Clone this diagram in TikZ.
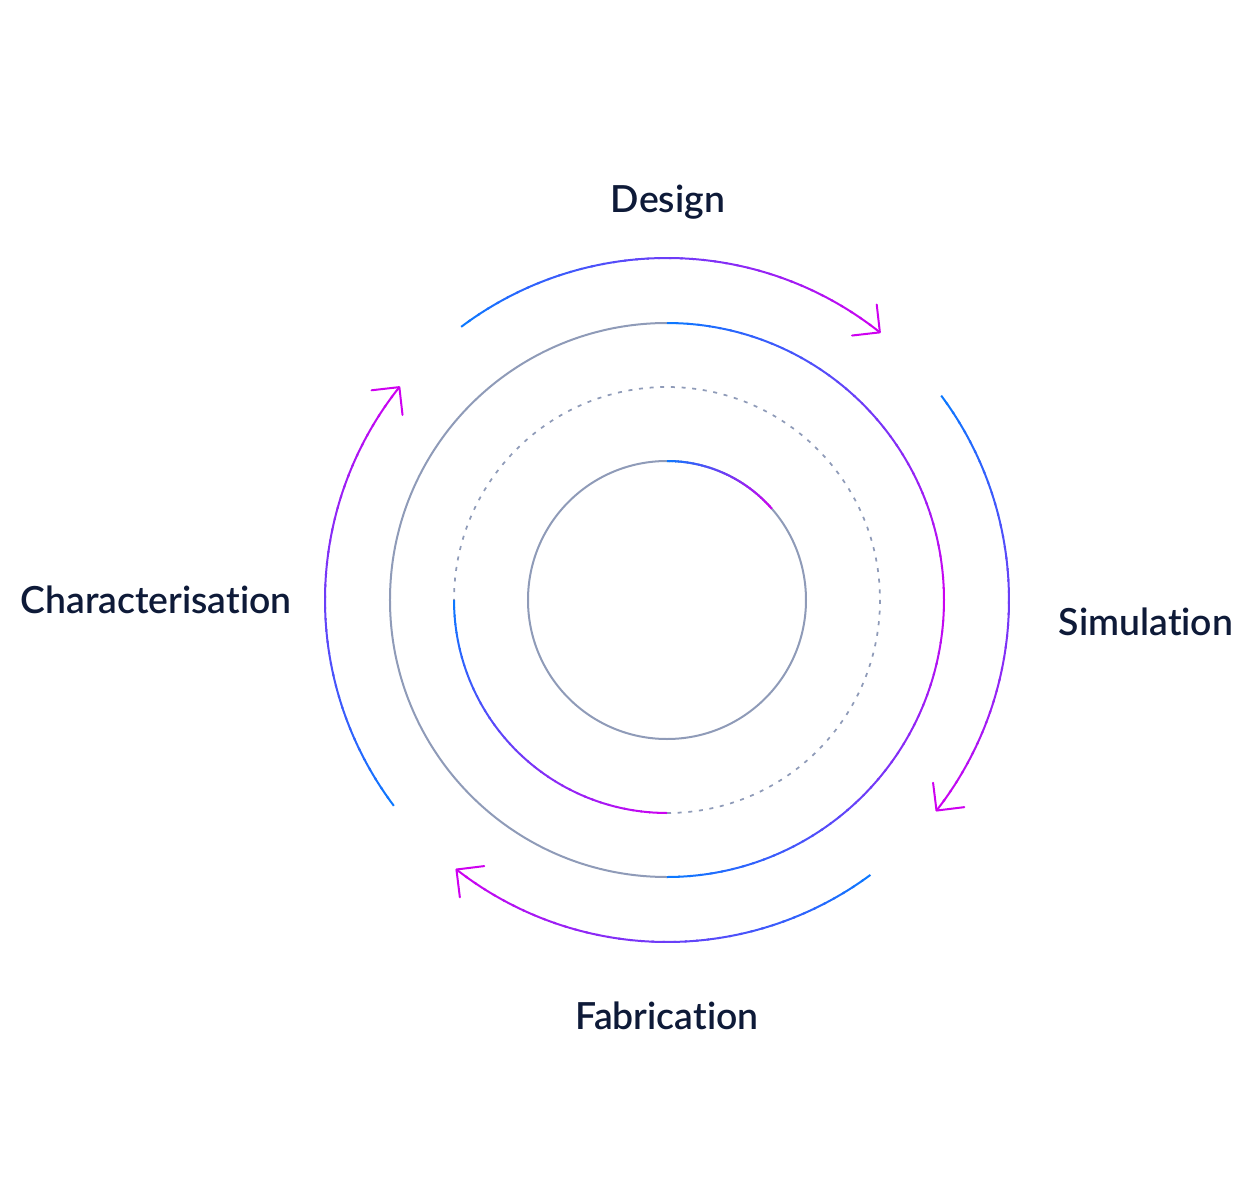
\documentclass[tikz,border=0pt]{standalone}
\usepackage{fontspec}
\IfFontExistsTF{Lato Semibold}{\setmainfont{Lato Semibold}[Ligatures=NoCommon]}{\setmainfont{Lato}[Ligatures=NoCommon,FakeBold=1]}
\definecolor{cblue}{RGB}{10,122,255}
\definecolor{cmag}{RGB}{206,0,240}
\definecolor{cgray}{RGB}{143,155,184}
\definecolor{ctext}{RGB}{14,26,56}
\newcommand\gradarc[5]{%
  \foreach \k in {1,...,40}{%
    \pgfmathsetmacro\aa{#2+(#3-#2)*(\k-1)/40-(\k>1)*sign(#3-#2)*0.4}%
    \pgfmathsetmacro\ab{#2+(#3-#2)*\k/40}%
    \pgfmathsetmacro\pc{100*(\k-0.5)/40}%
    \draw[ring,color=#5!\pc!#4] (\aa:#1) arc[start angle=\aa,end angle=\ab,radius=#1];
  }}
\newcommand\arrowtip[2]{%
  \draw[ring,color=cmag,line cap=round,line join=round]
    ($(#1:#2)+(#1+45:28)$) -- (#1:#2) -- ($(#1:#2)+(#1+135:28)$);}
\usetikzlibrary{calc}
\tikzset{
  ring/.style={line width=1.5pt},
  graycirc/.style={ring,color=cgray},
  lbl/.style={font=\fontsize{28}{32}\selectfont,text=ctext,inner sep=0pt}
}
\begin{document}
\begin{tikzpicture}[x=0.75pt,y=0.75pt]
\useasboundingbox (-667,-600) rectangle (589,600);
% inner circle
\draw[graycirc] (0,0) circle[radius=139];
\gradarc{139}{90}{41}{cblue}{cmag}
% dashed circle
\draw[graycirc,line width=1.3pt,dash pattern=on 3 off 5] (-90:213) arc[start angle=-90,end angle=180,radius=213];
\gradarc{213}{180}{270}{cblue}{cmag}
% outer circle
\draw[graycirc] (90:277) arc[start angle=90,end angle=270,radius=277];
\gradarc{277}{90}{0}{cblue}{cmag}
\gradarc{277}{0}{-90}{cmag}{cblue}
% cycle arrows
\gradarc{342}{127}{51.5}{cblue}{cmag}
\arrowtip{51.5}{342}
\gradarc{342}{36.7}{-38}{cblue}{cmag}
\arrowtip{-38}{342}
\gradarc{342}{-53.5}{-128}{cblue}{cmag}
\arrowtip{-128}{342}
\gradarc{342}{217}{141.5}{cblue}{cmag}
\arrowtip{141.5}{342}
% labels
\node[lbl] (design) at (1,398) {Design};
\node[lbl] (simulation) at (479,-22) {Simulation};
\node[lbl] (fabrication) at (0,-416) {Fabrication};
\node[lbl] (characterisation) at (-511,0) {Characterisation};
\end{tikzpicture}
\end{document}
